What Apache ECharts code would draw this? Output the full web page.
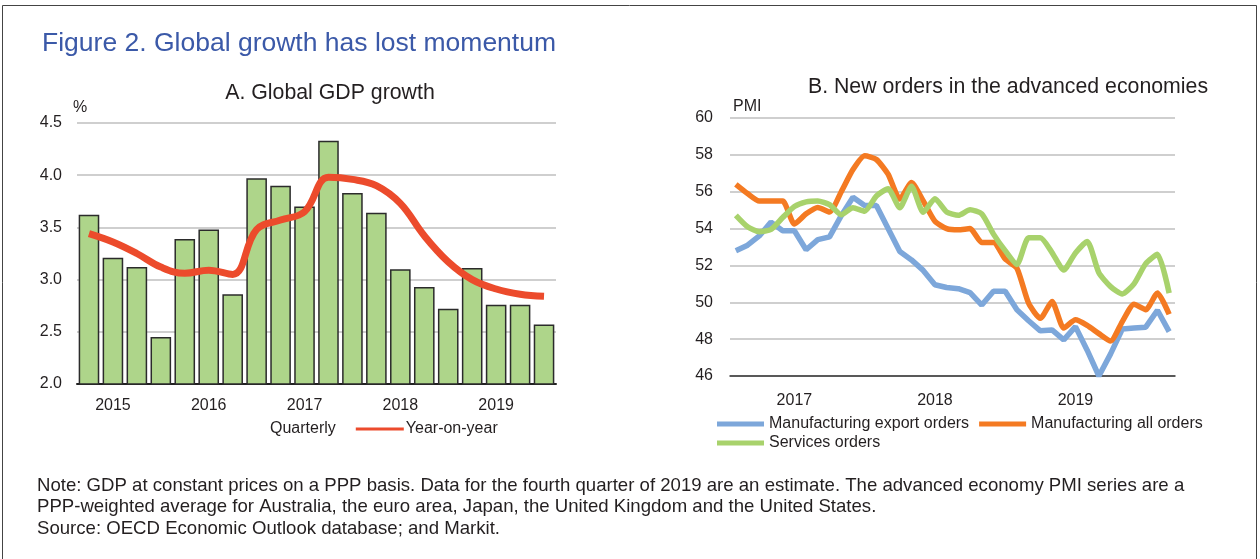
<!DOCTYPE html>
<html>
<head>
<meta charset="utf-8">
<script src="https://cdn.jsdelivr.net/npm/echarts@6/dist/echarts.min.js"></script>
<style>
  html, body { margin: 0; padding: 0; background: #fff; }
  #chart { width: 1260px; height: 559px; }
</style>
</head>
<body>
<div id="chart"></div>
<script>
// panel A: global GDP growth, quarterly 2015Q1 - 2019Q4
var quarters = ['2015Q1', '2015Q2', '2015Q3', '2015Q4', '2016Q1', '2016Q2', '2016Q3', '2016Q4',
    '2017Q1', '2017Q2', '2017Q3', '2017Q4', '2018Q1', '2018Q2', '2018Q3', '2018Q4',
    '2019Q1', '2019Q2', '2019Q3', '2019Q4'];
var gdpQuarterly = [3.62, 3.21, 3.12, 2.45, 3.39, 3.48, 2.86, 3.97, 3.90, 3.70,
    4.33, 3.83, 3.64, 3.10, 2.93, 2.72, 3.11, 2.76, 2.76, 2.57];
var gdpYoY = [3.44, 3.36, 3.25, 3.12, 3.06, 3.09, 3.05, 3.48, 3.57, 3.65,
    3.98, 3.96, 3.90, 3.73, 3.42, 3.17, 3.00, 2.91, 2.86, 2.84];

// panel B: new orders PMI, monthly
var months = ['2016-08', '2016-09', '2016-10', '2016-11', '2016-12',
    '2017-01', '2017-02', '2017-03', '2017-04', '2017-05', '2017-06', '2017-07', '2017-08', '2017-09', '2017-10', '2017-11', '2017-12',
    '2018-01', '2018-02', '2018-03', '2018-04', '2018-05', '2018-06', '2018-07', '2018-08', '2018-09', '2018-10', '2018-11', '2018-12',
    '2019-01', '2019-02', '2019-03', '2019-04', '2019-05', '2019-06', '2019-07', '2019-08', '2019-09'];
var exportOrders = [52.8, 53.1, 53.6, 54.35, 53.88, 53.88, 52.85, 53.4, 53.55, 54.7,
    55.7, 55.25, 55.25, 54.0, 52.75, 52.3, 51.73, 50.95, 50.8, 50.74,
    50.53, 49.85, 50.6, 50.6, 49.6, 49.0, 48.45, 48.5, 47.96, 48.68,
    47.4, 46.0, 47.2, 48.55, 48.6, 48.65, 49.57, 48.41];
var allOrders = [56.4, 55.9, 55.49, 55.49, 55.49, 54.25, 54.8, 55.15, 54.9, 56.0,
    57.2, 57.95, 57.75, 56.95, 55.6, 56.5, 55.5, 54.4, 54.0, 53.93,
    54.0, 53.25, 53.25, 52.35, 51.85, 49.95, 49.13, 50.04, 48.6, 49.05,
    48.75, 48.3, 47.9, 48.95, 49.9, 49.6, 50.5, 49.35];
var servicesOrders = [54.72, 54.1, 53.83, 53.95, 54.6, 55.2, 55.45, 55.5, 55.3, 54.75,
    55.13, 54.94, 55.77, 56.16, 55.13, 56.3, 54.88, 55.62, 54.9, 54.72,
    55.02, 54.8, 53.7, 52.8, 52.05, 53.5, 53.5, 52.7, 51.75, 52.68,
    53.3, 51.6, 50.85, 50.45, 51.0, 52.1, 52.6, 50.5];

var FONT = '"Liberation Sans", Arial, sans-serif';
var TXT = '#231f20';

var chart = echarts.init(document.getElementById('chart'));

var option = {
    animation: false,
    backgroundColor: '#fff',
    textStyle: { fontFamily: FONT, color: TXT },
    title: [
        {
            text: 'Figure 2. Global growth has lost momentum',
            left: 37, top: 25,
            textStyle: { fontFamily: FONT, fontSize: 26.5, fontWeight: 'normal', color: '#3b59a8' }
        },
        {
            text: 'A. Global GDP growth',
            left: 325, top: 78, textAlign: 'center',
            textStyle: { fontFamily: FONT, fontSize: 21.3, fontWeight: 'normal', color: TXT }
        },
        {
            text: 'B. New orders in the advanced economies',
            left: 1003, top: 72, textAlign: 'center',
            textStyle: { fontFamily: FONT, fontSize: 21.3, fontWeight: 'normal', color: TXT }
        }
    ],
    grid: [
        { left: 77, top: 123, width: 479, height: 261 },
        { left: 730, top: 118, width: 445, height: 258 }
    ],
    legend: [
        {
            left: 214, top: 416, icon: 'rect',
            itemWidth: 48, itemHeight: 3, itemGap: 20,
            textStyle: { fontFamily: FONT, fontSize: 16, color: TXT, padding: [0, 0, 0, -3] },
            data: [
                { name: 'Quarterly', itemStyle: { opacity: 0 } },
                { name: 'Year-on-year' }
            ]
        },
        {
            left: 712, top: 411, icon: 'rect',
            itemWidth: 47, itemHeight: 5, itemGap: 10,
            textStyle: { fontFamily: FONT, fontSize: 16, color: TXT },
            data: ['Manufacturing export orders', 'Manufacturing all orders']
        },
        {
            left: 712, top: 430, icon: 'rect',
            itemWidth: 47, itemHeight: 5,
            textStyle: { fontFamily: FONT, fontSize: 16, color: TXT },
            data: ['Services orders']
        }
    ],
    xAxis: [
        {
            type: 'category', gridIndex: 0, data: quarters,
            axisLine: { lineStyle: { color: '#222', width: 2 } },
            axisTick: { show: false },
            axisLabel: {
                interval: 0, margin: 14, fontSize: 16, color: TXT, fontFamily: FONT,
                formatter: function (v) { return v.slice(4) === 'Q2' ? v.slice(0, 4) : ''; }
            }
        },
        {
            type: 'category', gridIndex: 1, data: months,
            axisLine: { lineStyle: { color: '#333', width: 1.5 } },
            axisTick: {
                inside: true, length: 4, lineStyle: { color: '#333' },
                interval: function (i) { return i % 12 === 0; }
            },
            axisLabel: {
                interval: 0, margin: 17, fontSize: 16, color: TXT, fontFamily: FONT,
                formatter: function (v) { return v.slice(5) === '01' ? v.slice(0, 4) : ''; }
            }
        }
    ],
    yAxis: [
        {
            type: 'value', gridIndex: 0, min: 2, max: 4.5, interval: 0.5,
            axisLine: { show: false }, axisTick: { show: false },
            splitLine: { lineStyle: { color: '#bfbfbf', width: 1.5 } },
            axisLabel: {
                margin: 15, fontSize: 16, color: TXT, fontFamily: FONT,
                formatter: function (v) { return v.toFixed(1); }
            }
        },
        {
            type: 'value', gridIndex: 1, min: 46, max: 60, interval: 2,
            axisLine: { show: false }, axisTick: { show: false },
            splitLine: { lineStyle: { color: '#bfbfbf', width: 1.5 } },
            axisLabel: { margin: 17, fontSize: 16, color: TXT, fontFamily: FONT }
        }
    ],
    series: [
        {
            name: 'Quarterly', type: 'bar', xAxisIndex: 0, yAxisIndex: 0,
            data: gdpQuarterly, barCategoryGap: '14%',
            itemStyle: { color: '#aed58a', borderColor: '#2b2b2b', borderWidth: 1.5 }
        },
        {
            name: 'Year-on-year', type: 'line', xAxisIndex: 0, yAxisIndex: 0,
            data: gdpYoY, smooth: 0.4, symbol: 'none',
            lineStyle: { color: '#ec4b2c', width: 7 },
            itemStyle: { color: '#ec4b2c' }
        },
        {
            name: 'Manufacturing export orders', type: 'line', xAxisIndex: 1, yAxisIndex: 1,
            data: exportOrders, symbol: 'none',
            lineStyle: { color: '#7da7da', width: 5.5 },
            itemStyle: { color: '#7da7da' }
        },
        {
            name: 'Manufacturing all orders', type: 'line', xAxisIndex: 1, yAxisIndex: 1,
            data: allOrders, symbol: 'none', smooth: 0.2,
            lineStyle: { color: '#f47a22', width: 5.5 },
            itemStyle: { color: '#f47a22' }
        },
        {
            name: 'Services orders', type: 'line', xAxisIndex: 1, yAxisIndex: 1,
            data: servicesOrders, symbol: 'none', smooth: 0.2,
            lineStyle: { color: '#a8d26c', width: 5.5 },
            itemStyle: { color: '#a8d26c' }
        }
    ],
    graphic: [
        {
            type: 'rect', silent: true,
            shape: { x: 2.5, y: 5.5, width: 1254, height: 600 },
            style: { fill: 'none', stroke: '#444', lineWidth: 1 }
        },
        {
            type: 'text', left: 73, top: 100,
            style: { text: '%', font: '16px ' + FONT, fill: TXT }
        },
        {
            type: 'text', left: 733, top: 99,
            style: { text: 'PMI', font: '16px ' + FONT, fill: TXT }
        },
        {
            type: 'text', left: 37, top: 475,
            style: {
                text: 'Note: GDP at constant prices on a PPP basis. Data for the fourth quarter of 2019 are an estimate. The advanced economy PMI series are a\n' +
                    'PPP-weighted average for Australia, the euro area, Japan, the United Kingdom and the United States.\n' +
                    'Source: OECD Economic Outlook database; and Markit.',
                font: '18.6px ' + FONT, fill: TXT, lineHeight: 21.5
            }
        }
    ]
};

chart.setOption(option);
</script>
</body>
</html>
